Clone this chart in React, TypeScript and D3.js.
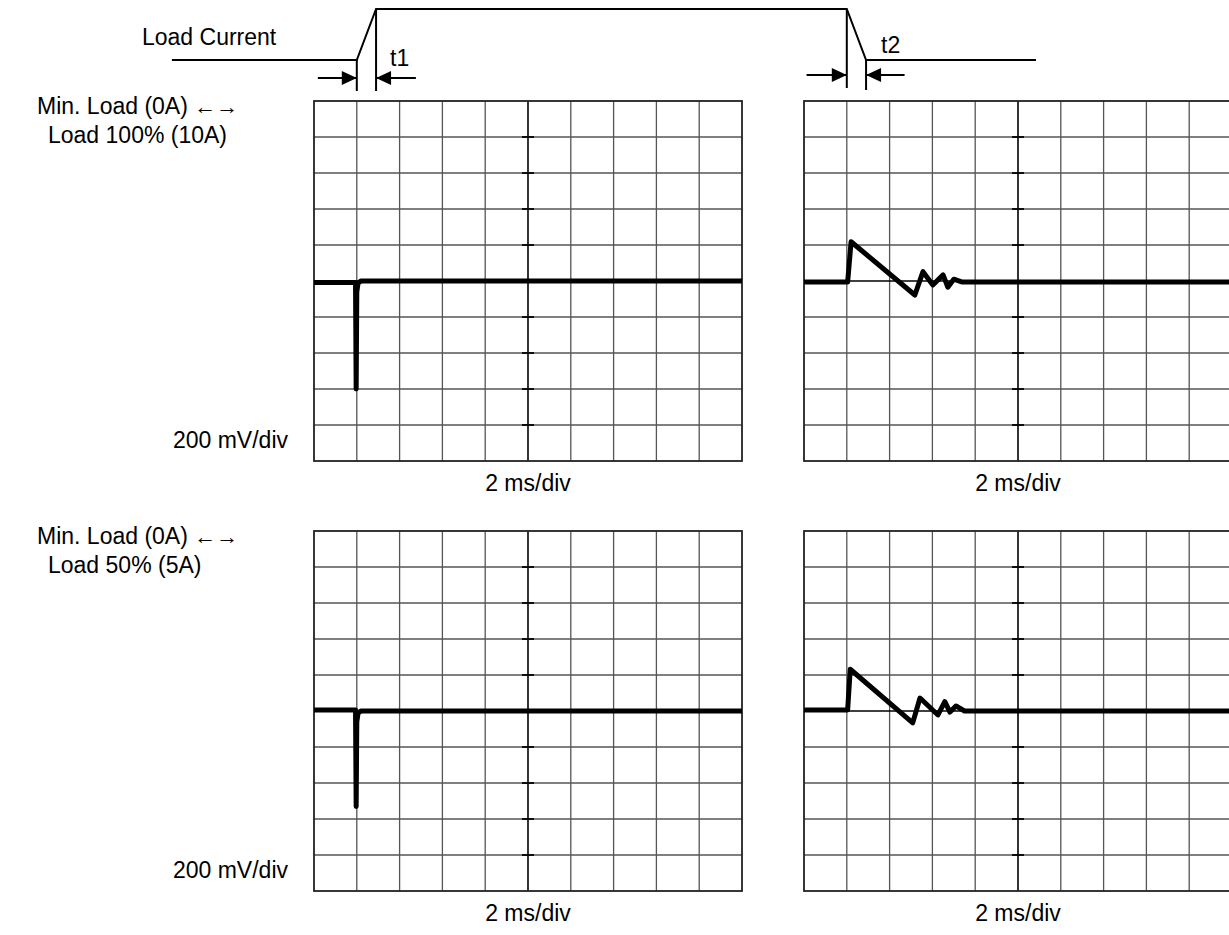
import React from 'react';
import * as d3 from 'd3';

// ---- Data (x in time divisions 0..10, y in voltage divisions, 0 = centre, 1 div = 200 mV) ----
const GRID_X_DIVS = 10;
const GRID_Y_DIVS = 10;

const riseTopX = [0, 0.97, 0.985, 1.0, 1.03, 1.1, 10];
const riseTopY = [-0.04, -0.04, -3.0, -0.3, -0.05, 0.0, 0.0];

const riseBotX = [0, 0.97, 0.985, 1.0, 1.03, 1.1, 10];
const riseBotY = [0.03, 0.03, -2.65, -0.3, -0.05, 0.0, 0.0];

const fallTopX = [0, 1.02, 1.1, 2.59, 2.78, 3.01, 3.25, 3.36, 3.5, 3.7, 10];
const fallTopY = [-0.03, -0.03, 1.09, -0.39, 0.26, -0.11, 0.17, -0.17, 0.05, -0.03, -0.03];

const fallBotX = [0, 1.02, 1.08, 2.54, 2.71, 3.13, 3.29, 3.41, 3.55, 3.75, 10];
const fallBotY = [0.03, 0.03, 1.16, -0.33, 0.36, -0.11, 0.26, -0.03, 0.14, 0.0, 0.0];

// Load current schematic: [panel (0 = left, 1 = right), x in that panel's divisions, level 0 = low / 1 = high]
const loadPanel = [0, 0, 0, 1, 1, 1];
const loadX = [-3.32, 1.0, 1.45, 1.0, 1.45, 5.42];
const loadLevel = [0, 0, 1, 1, 0, 0];

const rowLabelsTop = ['Min. Load (0A) ', 'Load 100% (10A)'];
const rowLabelsBot = ['Min. Load (0A) ', 'Load 50% (5A)'];
const arrowsLabel = '\u2190\u2192';
const voltLabel = '200 mV/div';
const timeLabel = '2 ms/div';

const FONT = '"Liberation Sans", Arial, Helvetica, sans-serif';
const PW = 428;
const PH = 360;
const LEFT_X = 314;
const RIGHT_X = 804;
const TOP_Y = 101;
const BOT_Y = 531;

function Panel({ x0, y0, xs, ys }: { x0: number; y0: number; xs: number[]; ys: number[] }) {
  const x = d3.scaleLinear().domain([0, GRID_X_DIVS]).range([x0, x0 + PW]);
  const y = d3.scaleLinear().domain([-GRID_Y_DIVS / 2, GRID_Y_DIVS / 2]).range([y0 + PH, y0]);
  const line = d3
    .line<number>()
    .x((_, i) => x(xs[i]))
    .y((d) => y(d));
  const vx = d3.range(1, GRID_X_DIVS);
  const hy = d3.range(-GRID_Y_DIVS / 2 + 1, GRID_Y_DIVS / 2);
  return (
    <g>
      {vx.map((v) => (
        <line
          key={'v' + v}
          x1={x(v)}
          x2={x(v)}
          y1={y0}
          y2={y0 + PH}
          stroke={v === GRID_X_DIVS / 2 ? '#000' : '#555'}
          strokeWidth={v === GRID_X_DIVS / 2 ? 1.6 : 1.3}
        />
      ))}
      {hy.map((v) => (
        <line
          key={'h' + v}
          x1={x0}
          x2={x0 + PW}
          y1={y(v)}
          y2={y(v)}
          stroke={v === 0 ? '#000' : '#555'}
          strokeWidth={1.3}
        />
      ))}
      {hy.map((v) => (
        <line
          key={'t' + v}
          x1={x(GRID_X_DIVS / 2) - 6}
          x2={x(GRID_X_DIVS / 2) + 6}
          y1={y(v)}
          y2={y(v)}
          stroke="#000"
          strokeWidth={1.8}
        />
      ))}
      <rect x={x0} y={y0} width={PW} height={PH} fill="none" stroke="#222" strokeWidth={1.8} />
      <path d={line(ys) || ''} fill="none" stroke="#000" strokeWidth={5} strokeLinejoin="round" />
    </g>
  );
}

function Arrow({ from, to, y }: { from: number; to: number; y: number }) {
  const dir = Math.sign(to - from);
  const hl = 15;
  const hw = 7;
  return (
    <g>
      <line x1={from} x2={to} y1={y} y2={y} stroke="#000" strokeWidth={2} />
      <path
        d={`M${to},${y} L${to - dir * hl},${y - hw} L${to - dir * hl},${y + hw} Z`}
        fill="#000"
      />
    </g>
  );
}

export default function App() {
  const xl = d3.scaleLinear().domain([0, GRID_X_DIVS]).range([LEFT_X, LEFT_X + PW]);
  const xr = d3.scaleLinear().domain([0, GRID_X_DIVS]).range([RIGHT_X, RIGHT_X + PW]);
  const lvl = d3.scaleLinear().domain([0, 1]).range([60, 9]);
  const loadLine = d3
    .line<number>()
    .x((_, i) => (loadPanel[i] === 0 ? xl(loadX[i]) : xr(loadX[i])))
    .y((d) => lvl(d));
  const textStyle = { fontFamily: FONT, fontSize: 23, fill: '#000' } as const;

  const labelsFor = (y0: number, labels: string[]) => (
    <g>
      <text x={37} y={y0 + 13} style={textStyle}>
        {labels[0]}
        <tspan style={{ fontSize: 22 }}>{arrowsLabel}</tspan>
      </text>
      <text x={48} y={y0 + 42} style={textStyle}>{labels[1]}</text>
      <text x={288} y={y0 + 347} textAnchor="end" style={textStyle}>{voltLabel}</text>
      <text x={xl(5)} y={y0 + 390} textAnchor="middle" style={textStyle}>{timeLabel}</text>
      <text x={xr(5)} y={y0 + 390} textAnchor="middle" style={textStyle}>{timeLabel}</text>
    </g>
  );

  return (
    <svg
      width={1229}
      height={935}
      style={{ position: 'absolute', left: 0, top: 0, background: '#fff', overflow: 'hidden' }}
    >
      <rect x={0} y={0} width={1229} height={935} fill="#fff" />
      {/* Load current schematic */}
      <text x={142} y={45} style={textStyle}>Load Current</text>
      <path d={loadLine(loadLevel) || ''} fill="none" stroke="#000" strokeWidth={2} strokeLinejoin="miter" />
      <line x1={xl(1)} x2={xl(1)} y1={lvl(0)} y2={91} stroke="#000" strokeWidth={2} />
      <line x1={xl(1.45)} x2={xl(1.45)} y1={lvl(1)} y2={91} stroke="#000" strokeWidth={2} />
      <Arrow from={xl(0.09)} to={xl(1)} y={78} />
      <Arrow from={xl(2.38)} to={xl(1.45)} y={78} />
      <text x={390} y={66} style={textStyle}>t1</text>

      <line x1={xr(1)} x2={xr(1)} y1={lvl(1)} y2={88} stroke="#000" strokeWidth={2} />
      <line x1={xr(1.45)} x2={xr(1.45)} y1={lvl(0)} y2={90} stroke="#000" strokeWidth={2} />
      <Arrow from={xr(0.06)} to={xr(1)} y={75} />
      <Arrow from={xr(2.35)} to={xr(1.45)} y={75} />
      <text x={881} y={53} style={textStyle}>t2</text>

      {labelsFor(TOP_Y, rowLabelsTop)}
      {labelsFor(BOT_Y, rowLabelsBot)}

      <Panel x0={LEFT_X} y0={TOP_Y} xs={riseTopX} ys={riseTopY} />
      <Panel x0={RIGHT_X} y0={TOP_Y} xs={fallTopX} ys={fallTopY} />
      <Panel x0={LEFT_X} y0={BOT_Y} xs={riseBotX} ys={riseBotY} />
      <Panel x0={RIGHT_X} y0={BOT_Y} xs={fallBotX} ys={fallBotY} />
    </svg>
  );
}
